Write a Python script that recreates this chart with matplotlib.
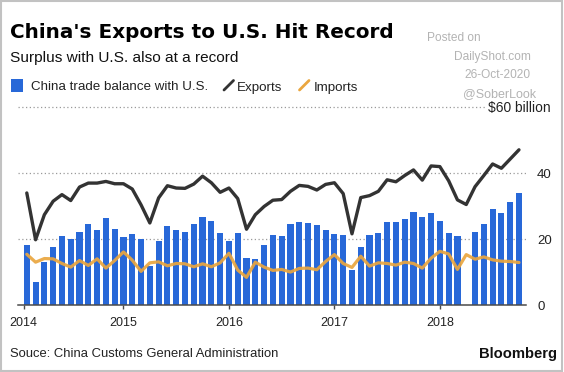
import numpy as np
import matplotlib
matplotlib.use("Agg")
import matplotlib.pyplot as plt
from matplotlib.patches import Rectangle
from matplotlib.lines import Line2D

W, H = 564, 372

# ---------------- data (USD billion), Jan 2014 .. Sep 2018 ----------------
months = [f"{y}-{m:02d}" for y in range(2014, 2019) for m in range(1, 13)][:57]

balance = [18.3, 7.0, 13.0, 17.7, 21.0, 20.0, 22.1, 24.5, 22.8, 26.4, 23.1, 20.5,
           21.6, 20.0, 11.8, 19.5, 24.1, 22.9, 22.3, 24.7, 26.6, 25.6, 21.8, 19.5,
           21.8, 14.4, 14.0, 18.2, 21.1, 20.8, 24.5, 25.1, 24.8, 24.2, 22.9, 21.6,
           21.3, 10.5, 17.7, 21.2, 21.7, 25.3, 25.2, 26.1, 28.2, 26.6, 28.0, 25.6,
           21.8, 21.0, np.nan, 22.1, 24.5, 29.1, 28.0, 31.2, 34.1]

exports = [34.0, 19.8, 27.4, 31.5, 33.5, 31.7, 35.8, 37.0, 37.0, 37.5, 36.8, 36.8,
           35.2, 30.4, 24.9, 32.5, 36.2, 35.5, 35.4, 36.7, 39.1, 37.1, 34.2, 35.5,
           32.3, 23.0, 27.4, 29.9, 31.8, 32.0, 34.5, 36.3, 36.0, 34.9, 36.6, 37.1,
           33.8, 21.6, 32.6, 33.2, 34.5, 38.0, 37.4, 39.3, 41.0, 37.9, 42.2, 42.0,
           37.7, 31.9, 30.5, 35.9, 39.3, 42.8, 41.5, 44.3, 47.1]

imports = [15.4, 13.0, 14.1, 14.0, 12.6, 11.5, 13.5, 12.0, 14.0, 11.2, 13.5, 16.1,
           13.6, 10.2, 12.8, 13.1, 11.9, 12.6, 12.5, 11.6, 12.5, 11.6, 12.8, 15.7,
           10.6, 8.4, 13.0, 11.5, 10.5, 10.8, 10.0, 11.1, 11.2, 10.7, 13.2, 15.3,
           12.6, 11.4, 14.8, 11.8, 12.8, 12.6, 12.1, 13.0, 12.6, 11.2, 14.2, 16.3,
           15.5, 10.8, 15.3, 13.9, 14.6, 13.7, 13.3, 13.2, 12.9]

year_labels = ["2014", "2015", "2016", "2017", "2018"]
year_ticks = [0.66, 12, 24, 36, 48]          # months since Jan 2014 (month-end positions)
y_ticks = [0, 20, 40]
y_labels = ["0", "20", "40"]

# ---------------- styling ----------------
BLUE = "#2868d8"
DARK = "#333333"
ORANGE = "#eaa63f"
SANS = ["Liberation Sans", "DejaVu Sans"]
plt.rcParams["font.family"] = SANS

fig = plt.figure(figsize=(W / 100, H / 100), dpi=100)
fig.patch.set_facecolor("white")

def fx(x):
    return x / W

def fy(y):
    return 1 - y / H

ax_l, ax_r, ax_t, ax_b = 18, 526, 107.3, 305
ax = fig.add_axes([fx(ax_l), fy(ax_b), (ax_r - ax_l) / W, (ax_b - ax_t) / H])
ax.set_facecolor("none")

x = np.arange(1, len(months) + 1)
ax.bar(x, balance, width=0.7, color=BLUE, zorder=2)
ax.plot(x, exports, color=DARK, lw=2.4, zorder=4, solid_joinstyle="round", solid_capstyle="round")
ax.plot(x, imports, color=ORANGE, lw=2.3, alpha=0.92, zorder=3, solid_joinstyle="round",
        solid_capstyle="round")

for g in (20, 40, 60):
    ax.axhline(g, color="#9a9a9a", lw=0.9, ls=(0, (1, 2)), zorder=1, clip_on=False)

ax.set_xlim(0, 57.8)
ax.set_ylim(0, 60)

for s in ("top", "left", "right"):
    ax.spines[s].set_visible(False)
ax.spines["bottom"].set_color("#4a4a4a")
ax.spines["bottom"].set_linewidth(1.1)
ax.spines["bottom"].set_zorder(5)

ax.set_xticks(year_ticks)
ax.set_xticklabels(year_labels, fontsize=9, color="#222222")
ax.tick_params(axis="x", direction="out", length=3, width=1, color="#4a4a4a", pad=6)

ax.yaxis.tick_right()
ax.set_yticks(y_ticks)
ax.set_yticklabels(y_labels, fontsize=9.5, color="#222222")
ax.tick_params(axis="y", length=0, pad=8)

# "$60 billion" label
fig.text(fx(551), fy(108), "$60 billion", fontsize=9.9, color="#222222", ha="right",
         va="center", bbox=dict(facecolor="white", edgecolor="none", pad=1.0), zorder=6)

# ---------------- titles ----------------
fig.text(fx(10), fy(37.8), "China's Exports to U.S. Hit Record", fontsize=14.4,
         fontweight="bold", family=["DejaVu Sans"], color="black", va="baseline", ha="left")
fig.text(fx(10), fy(62), "Surplus with U.S. also at a record", fontsize=11.1,
         color="#111111", va="baseline", ha="left")

# ---------------- legend ----------------
fig.patches.append(Rectangle((fx(10.8), fy(92)), 12.4 / W, 13 / H, transform=fig.transFigure,
                             facecolor=BLUE, edgecolor="none"))
fig.text(fx(30.6), fy(90.5), "China trade balance with U.S.", fontsize=9.6, color="#222222",
         va="baseline", ha="left")
fig.lines.append(Line2D([fx(224), fx(233.5)], [fy(90), fy(80.5)], transform=fig.transFigure,
                        color=DARK, lw=2.0, solid_capstyle="round"))
fig.text(fx(237), fy(90.5), "Exports", fontsize=9.6, color="#222222", va="baseline", ha="left")
fig.lines.append(Line2D([fx(299.5), fx(309)], [fy(90), fy(80.5)], transform=fig.transFigure,
                        color=ORANGE, lw=2.0, solid_capstyle="round"))
fig.text(fx(313.7), fy(90.5), "Imports", fontsize=9.6, color="#222222", va="baseline", ha="left")

# ---------------- watermark ----------------
WM = "#b3b3b3"
fig.text(fx(427), fy(38), "Posted on", fontsize=8.6, color=WM, va="center", ha="left")
fig.text(fx(531), fy(57), "DailyShot.com", fontsize=8.6, color=WM, va="center", ha="right")
fig.text(fx(530), fy(75.5), "26-Oct-2020", fontsize=8.6, color=WM, va="center", ha="right")
fig.text(fx(536), fy(94.5), "@SoberLook", fontsize=9.0, color=WM, va="center", ha="right", zorder=7)

# ---------------- footer ----------------
fig.text(fx(10), fy(357), "Souce: China Customs General Administration", fontsize=9.4,
         color="#222222", va="baseline", ha="left")
fig.text(fx(557.5), fy(358), "Bloomberg", fontsize=10.6, fontweight="bold", color="#111111",
         va="baseline", ha="right")

# ---------------- frame ----------------
fig.patches.append(Rectangle((fx(1), fy(371)), 561 / W, 370 / H, transform=fig.transFigure,
                             facecolor="none", edgecolor="#c2c2c2", lw=1.5))

fig.savefig("out.png", dpi=100, facecolor="white")
